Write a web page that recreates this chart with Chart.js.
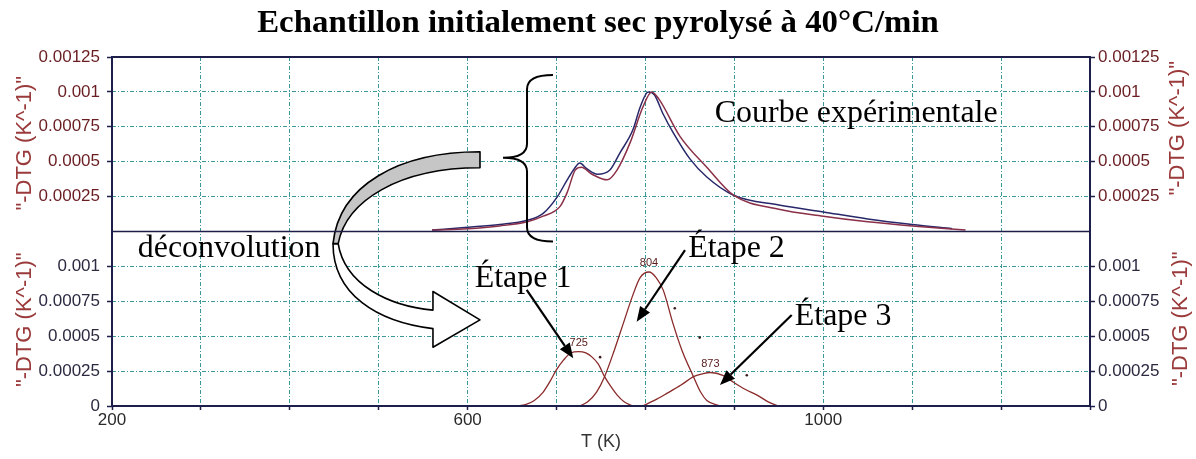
<!DOCTYPE html>
<html><head><meta charset="utf-8">
<script src="https://cdn.jsdelivr.net/npm/chart.js@4.4.1/dist/chart.umd.min.js"></script>
<style>html,body{margin:0;padding:0;background:#fff;}#wrap{position:relative;width:1196px;height:459px;}</style>
</head><body><div id="wrap"><canvas id="c" width="1196" height="459"></canvas></div>
<script>
// ---- data ----
const expT = [560,600,636,667,685,701,712,720,726,734,746,760,771,786,794,803,810,820,831,850,869,899,950,1000,1050,1100,1145];
const expV = [0.00001,0.00003,0.00005,0.00008,0.00013,0.00025,0.00037,0.00045,0.00049,0.00045,0.00041,0.00044,0.00056,0.00073,0.00089,0.001,0.00098,0.00084,0.00071,0.00052,0.00039,0.00026,0.00019,0.00014,0.00009,0.00005,0.00002];
const modT = [560,600,636,667,685,704,712,721,728,740,757,768,783,797,807,815,839,869,899,950,1000,1050,1100,1160];
const modV = [0.00001,0.00002,0.00004,0.00007,0.00011,0.00018,0.00028,0.00044,0.00046,0.00041,0.00037,0.00044,0.00064,0.00089,0.001,0.00095,0.00068,0.00046,0.00026,0.00016,0.00011,0.00007,0.00004,0.00001];
const step1T = [655,665,675,685,693,700,708,716,725,733,740,747,754,761,768,776,786];
const step1V = [0,0.00001,0.00004,0.0001,0.00018,0.00026,0.00033,0.00038,0.00039,0.00038,0.00035,0.0003,0.00021,0.00014,0.00008,0.00003,0];
const step2T = [726,735,745,754,765,775,785,794,804,812,820,831,841,854,862,869,884];
const step2V = [0,0.00003,0.0001,0.00021,0.0004,0.00059,0.00078,0.00092,0.00096,0.00092,0.00083,0.00059,0.0004,0.00021,0.0001,0.00004,0];
const step3T = [797,810,824,840,854,864,873,887,899,912,925,938,949];
const step3V = [0,0.00004,0.00009,0.00015,0.00021,0.00023,0.00024,0.00022,0.00017,0.00012,0.00008,0.00003,0];
const dotT = [749,833,861,914];
const dotV = [0.00035,0.0007,0.00049,0.00022];
const peakLabels = ['725','804','873'];
const yTickValues = [0,0.00025,0.0005,0.00075,0.001,0.00125];
const yTickLabels = ['0','0.00025','0.0005','0.00075','0.001','0.00125'];
const xLabelValues = [200,600,1000];
const xTickLabels = ['200','600','1000'];
const chartTitle = 'Echantillon initialement sec pyrolysé à 40°C/min';
const yTitle = '"-DTG (K^-1)"';
const xTitle = 'T (K)';

// ---- styles ----
const TEAL = '#3a9898';
const NAVY = '#1e1e4a';
const MAROON = '#8a2a2a';
const LBL_TOP = '#6a1e22';
const LBL_BOT = '#2a2a40';
const SANS = '"Liberation Sans", Arial, sans-serif';
const SERIF = '"Liberation Serif", "Times New Roman", serif';
const GRID_DASH = [4,2,1,2];

function pts(T, V){ return T.map((t,i)=>({x:t,y:V[i]})); }

function yScale(pos, isTop){
  return {
    type:'linear', position:pos, stack:pos, stackWeight:1, min:0, max:0.00125,
    afterBuildTicks: s => { s.ticks = yTickValues.map(v=>({value:v})); },
    afterFit: s => { s.width = pos==='left' ? 112 : 106; },
    ticks:{
      autoSkip:false, color: isTop ? LBL_TOP : LBL_BOT,
      font:{family:SANS, size:17}, padding: pos==='left' ? 7 : 3,
      callback:(v,i)=>{ if(isTop && i===0) return ''; if(!isTop && i===5) return ''; return yTickLabels[i]; }
    },
    grid:{
      drawOnChartArea: pos==='left',
      color: c => (c.index===0||c.index===5) ? 'rgba(0,0,0,0)' : TEAL,
      tickColor: c => ((isTop&&c.index===0)||(!isTop&&c.index===5)) ? 'rgba(0,0,0,0)' : NAVY,
      tickLength:5, tickWidth:1.5, lineWidth:1, tickBorderDash:[]
    },
    border:{display:false, dash:GRID_DASH}
  };
}

function arrow(ctx, x0,y0,x1,y1){
  const a = Math.atan2(y1-y0, x1-x0), L=15, W=6;
  const bx = x1 - L*Math.cos(a), by = y1 - L*Math.sin(a);
  ctx.beginPath(); ctx.moveTo(x0,y0); ctx.lineTo(bx,by); ctx.stroke();
  ctx.beginPath(); ctx.moveTo(x1,y1);
  ctx.lineTo(bx + W*Math.sin(a), by - W*Math.cos(a));
  ctx.lineTo(bx - W*Math.sin(a), by + W*Math.cos(a));
  ctx.closePath(); ctx.fill();
}
function text(ctx, str, x, y, font, sx, color, align){
  ctx.save(); ctx.font = font; ctx.fillStyle = color||'#000'; ctx.textAlign = align||'left'; ctx.textBaseline='alphabetic';
  ctx.translate(x,y); ctx.scale(sx,1); ctx.fillText(str,0,0); ctx.restore();
}

const deco = {
  id:'deco',
  beforeDatasetsDraw(chart){
    const {ctx, scales:s} = chart;
    const X = t => s.x.getPixelForValue(t), YT = v => s.yTop.getPixelForValue(v);
    const x0=X(448.6), x1=X(613.9), y0=YT(0.000571), y1=YT(-0.000829);
    const P = (nx,ny)=>[x0+nx*(x1-x0), y0+ny*(y1-y0)];
    ctx.save(); ctx.lineWidth=1.6; ctx.strokeStyle='#000'; ctx.lineJoin='round';
    ctx.beginPath();
    ctx.moveTo(...P(0,0.47));
    ctx.bezierCurveTo(...P(0,0.73), ...P(0.30,0.87), ...P(0.68,0.905));
    ctx.lineTo(...P(0.68,1)); ctx.lineTo(...P(1,0.86)); ctx.lineTo(...P(0.68,0.715)); ctx.lineTo(...P(0.68,0.81));
    ctx.bezierCurveTo(...P(0.38,0.79), ...P(0.08,0.68), ...P(0.035,0.47));
    ctx.closePath(); ctx.fillStyle='#fff'; ctx.fill(); ctx.stroke();
    ctx.beginPath();
    ctx.moveTo(...P(1,0));
    ctx.bezierCurveTo(...P(0.45,0), ...P(0.04,0.17), ...P(0,0.47));
    ctx.lineTo(...P(0.035,0.47));
    ctx.bezierCurveTo(...P(0.09,0.25), ...P(0.45,0.082), ...P(1,0.082));
    ctx.closePath(); ctx.fillStyle='#c6c6c6'; ctx.fill(); ctx.stroke();
    ctx.restore();
  },
  afterDraw(chart){
    const {ctx, chartArea:a, scales:s} = chart;
    const X = t => s.x.getPixelForValue(t), YT = v => s.yTop.getPixelForValue(v), YB = v => s.yBot.getPixelForValue(v);
    ctx.save();
    ctx.strokeStyle = NAVY; ctx.lineWidth = 2;
    ctx.strokeRect(a.left, a.top, a.right-a.left, a.bottom-a.top);
    ctx.lineWidth = 1.6;
    ctx.beginPath(); ctx.moveTo(a.left, YT(0)); ctx.lineTo(a.right, YT(0)); ctx.stroke();
    text(ctx, chartTitle, 598, 32, 'bold 31px '+SERIF, 1.06, '#000', 'center');
    const yt = (x, y) => { ctx.save(); ctx.translate(x,y); ctx.rotate(-Math.PI/2); ctx.font='22px '+SANS; ctx.fillStyle='#9a3a3a'; ctx.textAlign='center'; ctx.textBaseline='middle'; ctx.fillText(yTitle,0,0); ctx.restore(); };
    yt(25, (YT(0)+YT(0.00125))/2 - 1);
    yt(25, (YB(0)+YB(0.00125))/2 + 1);
    yt(1178, (YT(0)+YT(0.00125))/2 - 16);
    yt(1181, (YB(0)+YB(0.00125))/2);
    ctx.font = '11px '+SANS; ctx.fillStyle = '#5a2020'; ctx.textAlign='center'; ctx.textBaseline='middle';
    [[step1T,step1V],[step2T,step2V],[step3T,step3V]].forEach(([T,V],k)=>{
      const i = V.indexOf(Math.max(...V));
      ctx.fillText(peakLabels[k], X(Number(peakLabels[k])), YB(V[i]) - 9);
    });
    const f = '31px '+SERIF;
    text(ctx, 'Courbe expérimentale', X(878), YT(0.000786), f, 1.03);
    text(ctx, 'déconvolution', X(229), YB(0.001067), f, 1.03);
    text(ctx, 'Étape 1', X(608), YB(0.000852), f, 1.03);
    text(ctx, 'Étape 2', X(848), YB(0.00107), f, 1.03);
    text(ctx, 'Étape 3', X(968), YB(0.00058), f, 1.03);
    ctx.strokeStyle='#000'; ctx.fillStyle='#000'; ctx.lineWidth=2.2;
    arrow(ctx, X(666.4), YB(0.000831), X(718.8), YB(0.000342));
    arrow(ctx, X(844.5), YB(0.001117), X(790.1), YB(0.000604));
    arrow(ctx, X(964.5), YB(0.000652), X(883.8), YB(0.00015));
    const xe=X(696), xb=X(666.8), xt=X(639.8), b0=YT(0.001121), bm=YT(0.000529), b1=YT(-0.0000714), r=14;
    ctx.lineWidth=2; ctx.beginPath();
    ctx.moveTo(xe,b0); ctx.quadraticCurveTo(xb,b0,xb,b0+r);
    ctx.lineTo(xb,bm-r); ctx.quadraticCurveTo(xb,bm,xt,bm);
    ctx.quadraticCurveTo(xb,bm,xb,bm+r);
    ctx.lineTo(xb,b1-r); ctx.quadraticCurveTo(xb,b1,xe,b1);
    ctx.stroke();
    ctx.restore();
  }
};

const lineDs = (T,V,axis,color,w)=>({data:pts(T,V), xAxisID:'x', yAxisID:axis, borderColor:color, borderWidth:w, pointRadius:0, fill:false, cubicInterpolationMode:'monotone'});

new Chart(document.getElementById('c'), {
  type:'line',
  data:{datasets:[
    lineDs(modT,modV,'yTop','#8a3048',1.5),
    lineDs(expT,expV,'yTop','#28286a',1.5),
    lineDs(step1T,step1V,'yBot',MAROON,1.3),
    lineDs(step2T,step2V,'yBot',MAROON,1.3),
    lineDs(step3T,step3V,'yBot',MAROON,1.3),
    {type:'scatter', data:pts(dotT,dotV), xAxisID:'x', yAxisID:'yBot', pointRadius:1.3, pointBackgroundColor:'#3a1a1a', pointBorderWidth:0, showLine:false}
  ]},
  options:{
    responsive:false, animation:false, devicePixelRatio:1,
    layout:{padding:{top:57,left:0,right:0,bottom:0}},
    plugins:{legend:{display:false}, tooltip:{enabled:false}},
    scales:{
      x:{type:'linear', min:200, max:1300,
        afterFit: s => { s.height = 53; },
        ticks:{stepSize:100, autoSkip:false, maxRotation:0, color:'#2a2a2a', font:{family:SANS,size:17}, padding:0,
          callback:v=>{ const i = xLabelValues.indexOf(v); return i>=0 ? xTickLabels[i] : ''; }},
        grid:{color:c=>(c.tick&&(c.tick.value===200||c.tick.value===1300))?'rgba(0,0,0,0)':TEAL, tickColor:NAVY, tickLength:4, tickWidth:1.5, tickBorderDash:[]},
        border:{display:false, dash:GRID_DASH},
        title:{display:true, text:xTitle, color:'#333', font:{family:SANS,size:18}, padding:{top:2,bottom:6}}
      },
      yBot: yScale('left', false),
      yTop: yScale('left', true),
      yTopR: yScale('right', true),
      yBotR: yScale('right', false)
    }
  },
  plugins:[deco]
});
</script></body></html>
